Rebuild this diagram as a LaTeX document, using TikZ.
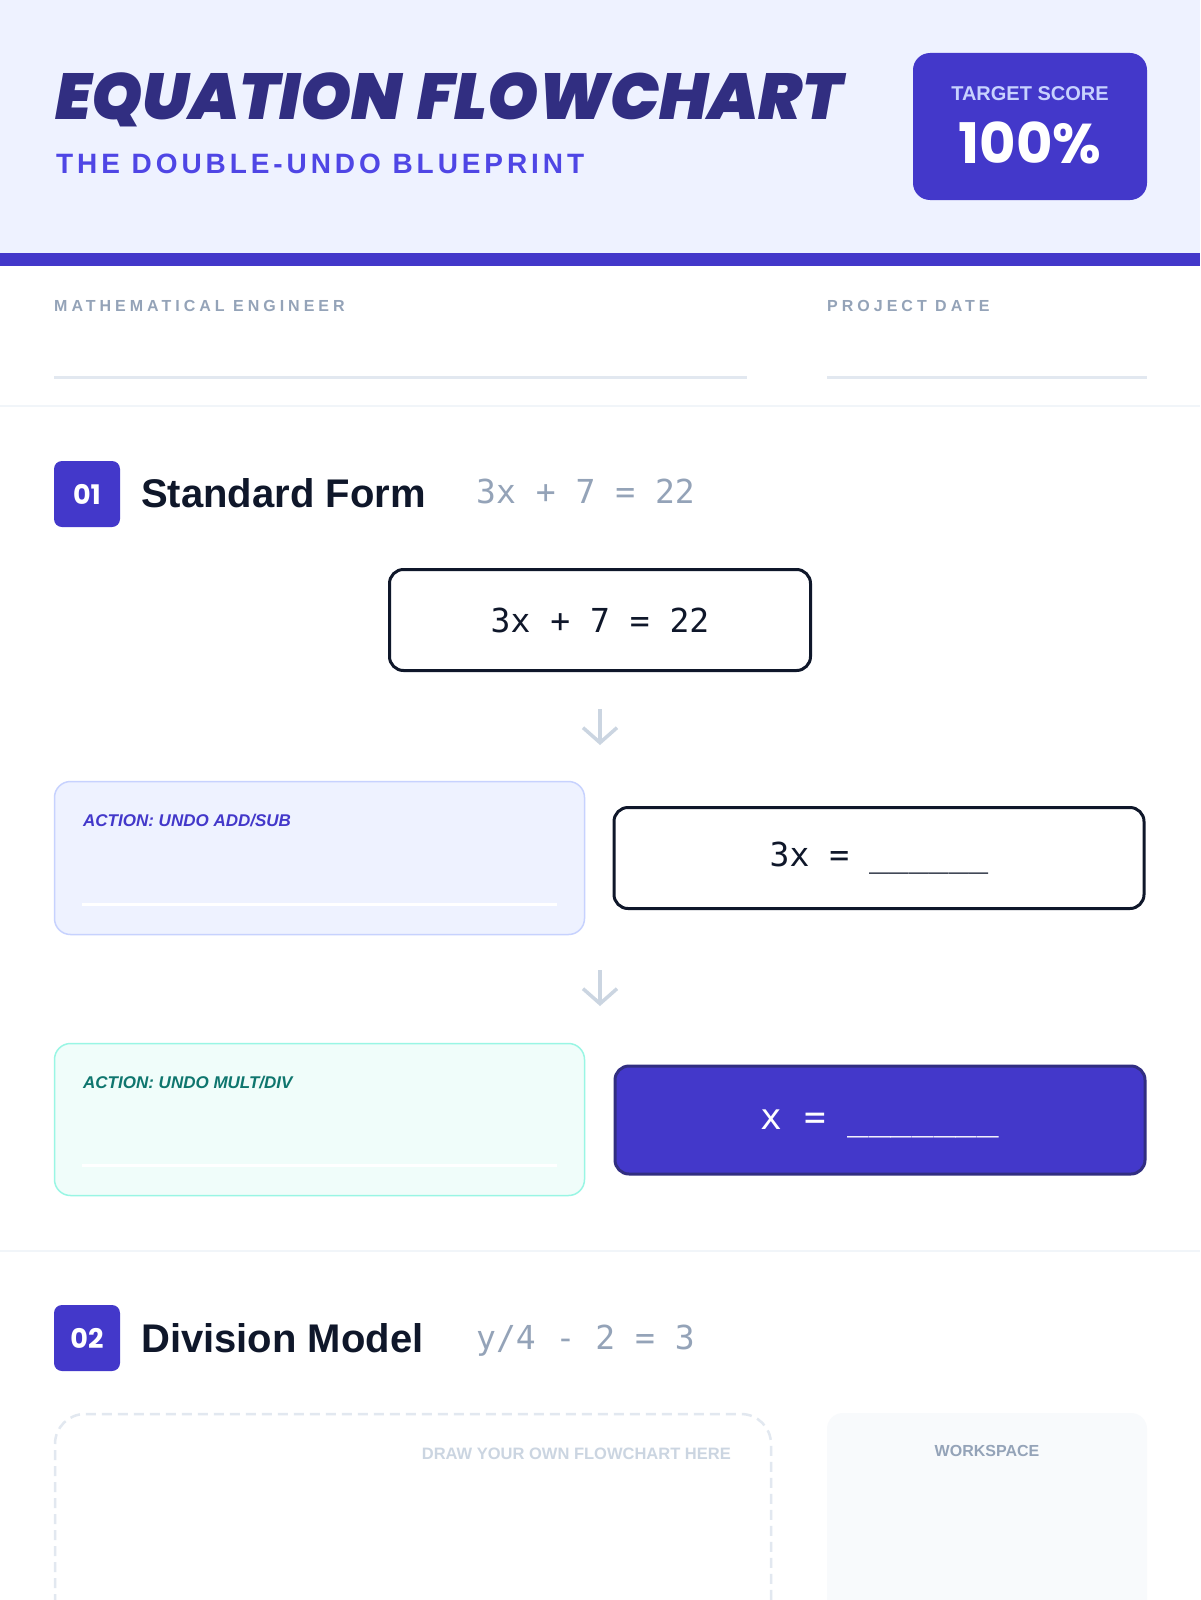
\documentclass[tikz,border=0pt]{standalone}
\usepackage{fontspec}
\setmainfont{Liberation Sans}
\newfontfamily\titlefont{Poppins Black Italic}
\newfontfamily\popbold{Poppins Bold}
\newfontfamily\eqmono{DejaVu Sans Mono}
\usetikzlibrary{arrows.meta}
\newcommand\fsz[1]{\fontsize{#1pt}{#1pt}\selectfont}
\definecolor{headerbg}{HTML}{EEF2FF}
\definecolor{indigoA}{HTML}{4338CA}
\definecolor{indigoD}{HTML}{312E81}
\definecolor{indigoM}{HTML}{4F46E5}
\definecolor{indigoL}{HTML}{C7D2FE}
\definecolor{slateA}{HTML}{94A3B8}
\definecolor{slateB}{HTML}{E2E8F0}
\definecolor{slateC}{HTML}{F1F5F9}
\definecolor{slateD}{HTML}{0F172A}
\definecolor{slateE}{HTML}{CBD5E1}
\definecolor{slateF}{HTML}{F8FAFC}
\definecolor{mintbg}{HTML}{F0FDFA}
\definecolor{mintline}{HTML}{99F6E4}
\definecolor{tealtext}{HTML}{0F766E}
\tikzset{
  eqbox/.style={draw=slateD, line width=3pt, rounded corners=14pt, fill=white, inner sep=0pt, text=slateD, font=\eqmono\fsz{33}},
  finalbox/.style={draw=indigoD, line width=3pt, rounded corners=14pt, fill=indigoA, inner sep=0pt},
  finaltext/.style={inner sep=0pt, text=white, font=\eqmono\fsz{36}},
  actbox/.style={line width=1.5pt, rounded corners=16pt, inner sep=0pt},
  badge/.style={fill=indigoA, rounded corners=8pt, minimum width=66pt, minimum height=66pt, inner sep=0pt, text=white, font=\popbold\fsz{27}},
  heading/.style={anchor=base west, inner sep=0pt, text=slateD, font=\bfseries\fsz{40}},
  grayeq/.style={anchor=base west, inner sep=0pt, text=slateA, font=\eqmono\fsz{33}},
  fieldlabel/.style={anchor=base west, inner sep=0pt, text=slateA, font=\bfseries\fsz{16}\addfontfeature{LetterSpace=25}},
  fieldline/.style={draw=slateB, line width=3pt},
  flowarrow/.style={draw=slateE, line width=3.5pt, -{Straight Barb[length=15pt, width=34pt, line width=3.5pt]}},
  acttext/.style={anchor=base west, inner sep=0pt, font=\bfseries\itshape\fsz{17}},
}
\begin{document}
\begin{tikzpicture}[x=1pt,y=-1pt]
\useasboundingbox (0,0) rectangle (1200,1600);
\begin{scope}
\clip (0,0) rectangle (1200,1600);
\fill[white] (0,0) rectangle (1200,1600);
% header
\fill[headerbg] (0,0) rectangle (1200,253);
\fill[indigoA] (0,253) rectangle (1200,266);
\node[anchor=base west, inner sep=0pt, text=indigoD, font=\titlefont\fsz{65}] (title) at (55,120) {EQUATION\hspace{4pt} FLOWCHART};
\node[anchor=base west, inner sep=0pt, text=indigoM, font=\bfseries\fsz{28}\addfontfeature{LetterSpace=14}] (subtitle) at (56,173) {THE DOUBLE-UNDO BLUEPRINT};
\node[fill=indigoA, rounded corners=17pt, minimum width=234pt, minimum height=147pt, inner sep=0pt] (score) at (1030,126.5) {};
\node[anchor=base, inner sep=0pt, text=indigoL, font=\bfseries\fsz{20}] (tgt) at (score.center |- 0,101) {TARGET SCORE};
\node[anchor=base, inner sep=0pt, text=white, font=\popbold\fsz{56}] (pct) at (score.center |- 0,163) {100\%};
% fields
\node[fieldlabel] (eng) at (54,311) {MATHEMATICAL ENGINEER};
\node[fieldlabel] (date) at (827,311) {PROJECT DATE};
\draw[fieldline] (54,377) -- (747,377);
\draw[fieldline] (827,377) -- (1147,377);
\draw[slateC, line width=1.5pt] (0,406) -- (1200,406);
% section 01
\node[badge] (b01) at (87,494) {01};
\node[heading] (h01) at (141,507) {Standard Form};
\node[grayeq] (g01) at (476,503) {3x + 7 = 22};
\node[eqbox, minimum width=421pt, minimum height=101pt] (box1) at (600,620) {3x + 7 = 22};
\coordinate (ar1a) at (600,709);
\coordinate (ar1b) at (600,745);
\draw[flowarrow] (ar1a) -- (ar1b);
\node[actbox, draw=indigoL, fill=headerbg, minimum width=530pt, minimum height=153pt] (act1) at (319.5,858) {};
\node[acttext, text=indigoA] (act1t) at (83,826) {ACTION: UNDO ADD/SUB};
\draw[white, line width=3pt] (82,904) -- (557,904);
\node[eqbox, minimum width=530pt, minimum height=101pt] (box2) at (879,858) {3x = \_\_\_\_\_\_};
\coordinate (ar2a) at (600,970);
\coordinate (ar2b) at (600,1006);
\draw[flowarrow] (ar2a) -- (ar2b);
\node[actbox, draw=mintline, fill=mintbg, minimum width=530pt, minimum height=152pt] (act2) at (319.5,1119.5) {};
\node[acttext, text=tealtext] (act2t) at (83,1088) {ACTION: UNDO MULT/DIV};
\draw[white, line width=3pt] (82,1165) -- (557,1165);
\node[finalbox, minimum width=530pt, minimum height=108pt] (box3) at (880,1120) {};
\node[finaltext] (box3t) at (880,1124) {x = \_\_\_\_\_\_\_};
\draw[slateC, line width=1.5pt] (0,1251) -- (1200,1251);
% section 02
\node[badge] (b02) at (87,1338) {02};
\node[heading] (h02) at (141,1352) {Division Model};
\node[grayeq] (g02) at (476,1349) {y/4 - 2 = 3};
\draw[slateB, line width=2.5pt, dash pattern=on 10pt off 6pt, rounded corners=30pt] (55,1700) -- (55,1414) -- (771,1414) -- (771,1700);
\node[anchor=base east, inner sep=0pt, text=slateE, font=\bfseries\fsz{16.5}] (drawown) at (731,1459) {DRAW YOUR OWN FLOWCHART HERE};
\fill[slateF, rounded corners=16pt] (827,1700) -- (827,1413) -- (1147,1413) -- (1147,1700);
\node[anchor=base, inner sep=0pt, text=slateA, font=\bfseries\fsz{16}] (ws) at (987,1456) {WORKSPACE};
\end{scope}
\end{tikzpicture}
\end{document}
